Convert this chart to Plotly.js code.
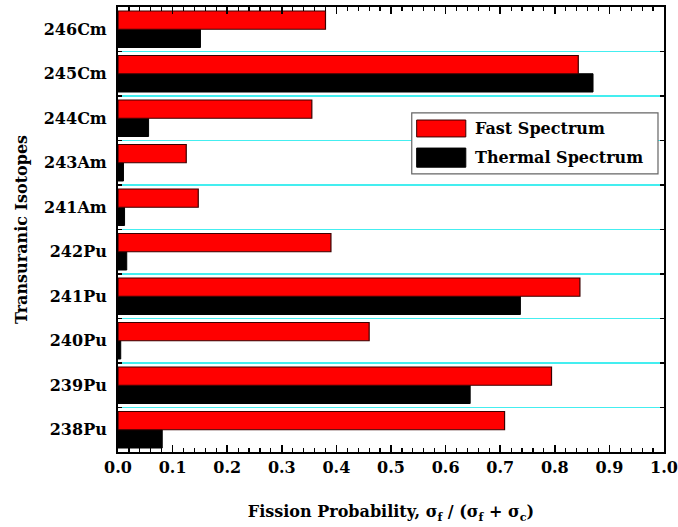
<!DOCTYPE html>
<html>
<head>
<meta charset="utf-8">
<script src="https://cdn.plot.ly/plotly-3.0.1.min.js"></script>
<style>html,body{margin:0;padding:0;background:#fff;}#chart{width:678px;height:527px;}</style>
</head>
<body>
<div id="chart"></div>
<script>
const isotopes = ["238Pu","239Pu","240Pu","241Pu","242Pu","241Am","243Am","244Cm","245Cm","246Cm"];
const fastSpectrum = [0.708,0.794,0.460,0.846,0.390,0.147,0.125,0.355,0.843,0.380];
const thermalSpectrum = [0.081,0.645,0.005,0.737,0.016,0.012,0.010,0.056,0.870,0.151];
const xTickVals = [0,0.1,0.2,0.3,0.4,0.5,0.6,0.7,0.8,0.9,1.0];
const xTickText = ["0.0","0.1","0.2","0.3","0.4","0.5","0.6","0.7","0.8","0.9","1.0"];
const seriesNames = ["Fast Spectrum","Thermal Spectrum"];
const seriesColors = ["#ff0000","#000000"];

const FONT = "DejaVu Serif, serif";

const traces = [
  {type:"bar", orientation:"h", name:seriesNames[1], y:isotopes, x:thermalSpectrum,
   marker:{color:seriesColors[1], line:{color:"#000000", width:1}}},
  {type:"bar", orientation:"h", name:seriesNames[0], y:isotopes, x:fastSpectrum,
   marker:{color:seriesColors[0], line:{color:"#3a0000", width:1.2}}}
];

// hand-built legend (large swatches as in the reference)
const legendBox = {x0:0.538, x1:0.989, y0:0.625, y1:0.762};
const swatchRows = [{y0:0.708, y1:0.746, ty:0.728},{y0:0.640, y1:0.683, ty:0.661}];
const shapes = [
  {type:"rect", xref:"paper", yref:"paper", x0:legendBox.x0, x1:legendBox.x1, y0:legendBox.y0, y1:legendBox.y1,
   fillcolor:"#fff", line:{color:"#666", width:1.2}, layer:"above"}
];
const annotations = [];
seriesNames.forEach((n,i)=>{
  shapes.push({type:"rect", xref:"paper", yref:"paper", x0:0.547, x1:0.637,
    y0:swatchRows[i].y0, y1:swatchRows[i].y1, fillcolor:seriesColors[i],
    line:{color:i===0?"#3a0000":"#000", width:1}, layer:"above"});
  annotations.push({xref:"paper", yref:"paper", x:0.650, y:swatchRows[i].ty, xanchor:"left", yanchor:"middle",
    text:n, showarrow:false, font:{family:FONT, size:16, color:"#000", weight:"bold"}});
});

const layout = {
  width:678, height:527,
  margin:{l:118, r:14, t:7, b:75},
  paper_bgcolor:"#fff", plot_bgcolor:"#fff",
  barmode:"group", bargap:0.18, bargroupgap:0,
  font:{family:FONT, size:16, color:"#000"},
  showlegend:false,
  shapes:shapes, annotations:annotations,
  xaxis:{range:[0,1], tickvals:xTickVals, ticktext:xTickText,
    ticks:"inside", ticklen:7, tickwidth:1.5, tickcolor:"#000",
    minor:{dtick:0.02, ticks:"inside", ticklen:4, tickwidth:1.2, tickcolor:"#000", showgrid:false},
    showline:true, linecolor:"#000", linewidth:2, mirror:"ticks",
    showgrid:false, zeroline:false,
    tickfont:{family:FONT, size:16, weight:"bold"},
    title:{text:"Fission Probability, σ<sub>f</sub> / (σ<sub>f</sub> + σ<sub>c</sub>)",
      font:{family:FONT, size:16, weight:"bold"}, standoff:30}},
  yaxis:{type:"category", categoryorder:"array", categoryarray:isotopes,
    tickson:"boundaries", ticks:"inside", ticklen:4, tickwidth:1.5, tickcolor:"#000",
    showline:true, linecolor:"#000", linewidth:2, mirror:"ticks",
    showgrid:true, gridcolor:"#44eef0", gridwidth:1.5,
    ticklabelstandoff:6,
    tickfont:{family:FONT, size:16, weight:"bold"},
    title:{text:"Transuranic Isotopes", font:{family:FONT, size:16, weight:"bold"}, standoff:12}},
  yaxis2:{overlaying:"y", side:"right", anchor:"x", range:[-0.5, isotopes.length-0.5],
    tickvals:isotopes.map((c,i)=>i), ticks:"inside", ticklen:4, tickwidth:1.5, tickcolor:"#000",
    showticklabels:false, showgrid:false, zeroline:false, showline:false}
};

Plotly.newPlot("chart", traces, layout, {displayModeBar:false, staticPlot:true});
</script>
</body>
</html>
